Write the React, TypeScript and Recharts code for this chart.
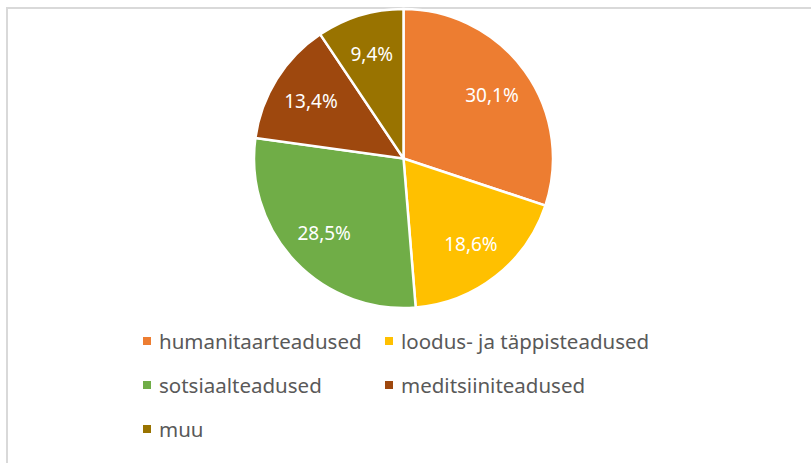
import { PieChart, Pie, Cell, Legend } from 'recharts';

const categories = [
  'humanitaarteadused',
  'loodus- ja täppisteadused',
  'sotsiaalteadused',
  'meditsiiniteadused',
  'muu',
];
const shares = [30.1, 18.6, 28.5, 13.4, 9.4];
const labels = ['30,1%', '18,6%', '28,5%', '13,4%', '9,4%'];
const colors = ['#ED7D31', '#FFC000', '#70AD47', '#9E480E', '#997300'];

const FONT = '"Noto Sans", "Open Sans", sans-serif';
const RAD = Math.PI / 180;

const data = categories.map((name, i) => ({ name, value: shares[i], label: labels[i] }));

function renderLabel(props: any) {
  const { cx, cy, midAngle, outerRadius, index } = props;
  const r = outerRadius * 0.73;
  const x = cx + r * Math.cos(-midAngle * RAD);
  const y = cy + r * Math.sin(-midAngle * RAD);
  return (
    <text
      x={x}
      y={y}
      fill="#ffffff"
      fontFamily={FONT}
      fontSize={19}
      textAnchor="middle"
      dominantBaseline="central"
    >
      {labels[index]}
    </text>
  );
}

function LegendBox() {
  return (
    <div
      style={{
        display: 'grid',
        gridTemplateColumns: '242px 290px',
        rowGap: 18,
        fontFamily: FONT,
        fontSize: 20.5,
        color: '#595959',
      }}
    >
      {data.map((d, i) => (
        <div key={d.name} style={{ display: 'flex', alignItems: 'center', height: 26 }}>
          <span
            style={{ width: 8, height: 8, background: colors[i], marginRight: 8, display: 'inline-block' }}
          />
          <span>{d.name}</span>
        </div>
      ))}
    </div>
  );
}

export default function App() {
  return (
    <div style={{ position: 'absolute', left: 0, top: 0, width: 811, height: 463, background: '#fff', overflow: 'hidden' }}>
      <div
        style={{
          position: 'absolute',
          left: 6,
          top: 7,
          width: 820,
          height: 470,
          borderLeft: '2px solid #d9d9d9',
          borderTop: '2px solid #d9d9d9',
        }}
      />
      <PieChart
        width={811}
        height={463}
        margin={{ top: 0, right: 0, bottom: 0, left: 0 }}
        style={{ position: 'absolute', left: 0, top: 0 }}
      >
        <Pie
          data={data}
          dataKey="value"
          nameKey="name"
          cx={403.5}
          cy={158.5}
          outerRadius={149.5}
          startAngle={90}
          endAngle={-270}
          stroke="#ffffff"
          strokeWidth={2.5}
          label={renderLabel}
          labelLine={false}
          isAnimationActive={false}
        >
          {data.map((d, i) => (
            <Cell key={d.name} fill={colors[i]} />
          ))}
        </Pie>
        <Legend
          content={() => <LegendBox />}
          wrapperStyle={{ position: 'absolute', left: 143, top: 328, width: 550 }}
        />
      </PieChart>
    </div>
  );
}
